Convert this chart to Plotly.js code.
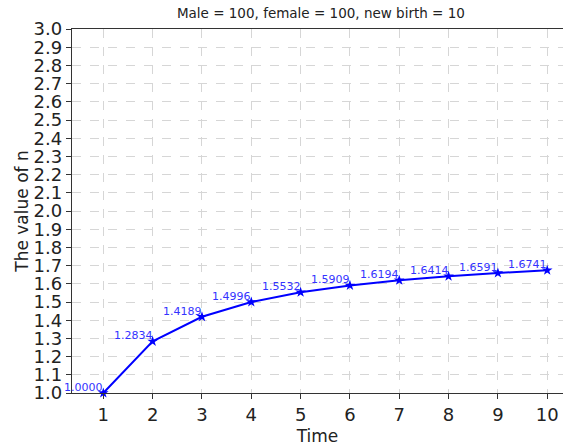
<!DOCTYPE html>
<html><head><meta charset="utf-8">
<script src="https://cdn.plot.ly/plotly-3.0.1.min.js"></script>
<style>body{margin:0;padding:0;}#chart{width:563px;height:448px;}</style>
</head><body><div id="chart"></div>
<script>
const times = [1,2,3,4,5,6,7,8,9,10];
const nValues = [1.0000,1.2834,1.4189,1.4996,1.5532,1.5909,1.6194,1.6414,1.6591,1.6741];
const labels = nValues.map(v => v.toFixed(4));
const yTicks = [];
for (let i = 10; i <= 30; i++) yTicks.push(i/10);
const yTickText = yTicks.map(v => v.toFixed(1));

const trace = {
  x: times, y: nValues, mode: 'lines+markers', type: 'scatter',
  line: {color: '#0000ff', width: 2},
  marker: {symbol: 'star', size: 8, color: '#0000ff'},
  cliponaxis: false, hoverinfo: 'skip'
};
const annotations = times.map((t, i) => ({
  x: t, y: nValues[i], xref: 'x', yref: 'y', text: labels[i], showarrow: false,
  xanchor: 'right', yanchor: 'bottom', xshift: 2, yshift: -3,
  font: {family: 'DejaVu Sans', size: 11, color: '#3333ff'}
}));
const axisCommon = {
  showline: true, linecolor: '#333', linewidth: 1.2, mirror: true,
  ticks: 'outside', ticklen: 5, tickcolor: '#333', tickwidth: 1,
  showgrid: true, gridcolor: '#d6d6d6', griddash: 'dash', gridwidth: 1,
  zeroline: false,
  tickfont: {family: 'DejaVu Sans', size: 18, color: '#222'}
};
const layout = {
  width: 563, height: 448,
  margin: {l: 72, r: 0, t: 29, b: 55},
  paper_bgcolor: '#fff', plot_bgcolor: '#fff',
  showlegend: false,
  annotations: annotations,
  title: {text: 'Male = 100, female = 100, new birth = 10', font: {family: 'DejaVu Sans', size: 13.5, color: '#222'}, x: 0.57, xanchor: 'center', y: 0.97, yanchor: 'middle'},
  xaxis: Object.assign({}, axisCommon, {
    range: [0.365, 10.32], tickvals: times, ticktext: times.map(String),
    title: {text: 'Time', font: {family: 'DejaVu Sans', size: 17, color: '#222'}, standoff: 6}
  }),
  yaxis: Object.assign({}, axisCommon, {
    range: [1.0, 3.0], tickvals: yTicks, ticktext: yTickText,
    title: {text: 'The value of n', font: {family: 'DejaVu Sans', size: 17, color: '#222'}, standoff: 0}
  })
};
Plotly.newPlot('chart', [trace], layout, {displayModeBar: false, staticPlot: true});
</script></body></html>
